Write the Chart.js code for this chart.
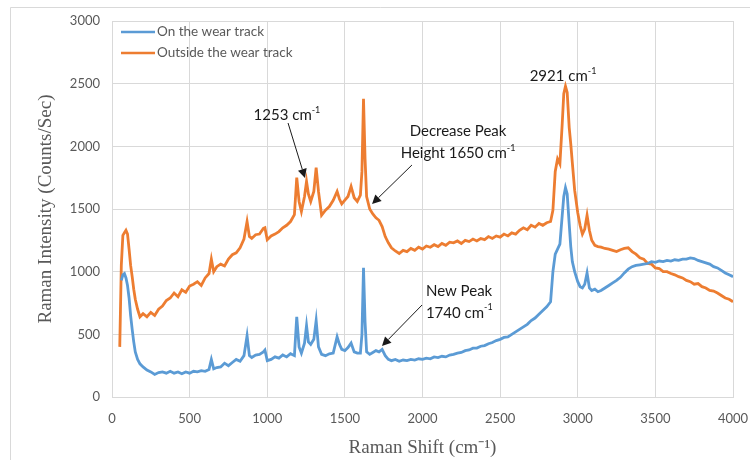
<!DOCTYPE html>
<html>
<head>
<meta charset="utf-8">
<script src="https://cdn.jsdelivr.net/npm/chart.js@4.4.1/dist/chart.umd.min.js"></script>
<style>
  html, body { margin: 0; padding: 0; background: #fff; }
  #wrap { width: 750px; height: 460px; }
</style>
</head>
<body>
<div id="wrap"><canvas id="ramanChart" width="750" height="460"></canvas></div>
<script>
// Raman shift (cm-1), shared by both spectra
const shifts = [
  50, 60, 70, 80, 90, 100, 110, 120, 130, 140,
  150, 165, 180, 200, 225, 250, 275, 300, 325, 350,
  375, 400, 425, 450, 475, 500, 525, 550, 575, 600,
  625, 640, 655, 675, 700, 725, 750, 775, 800, 825,
  850, 870, 885, 900, 925, 950, 975, 985, 1000, 1025,
  1050, 1075, 1100, 1125, 1150, 1175, 1190, 1205, 1220, 1240,
  1253, 1265, 1280, 1300, 1315, 1330, 1350, 1375, 1400, 1425,
  1450, 1465, 1480, 1500, 1520, 1540, 1560, 1580, 1600, 1610,
  1620, 1630, 1640, 1660, 1680, 1700, 1720, 1740, 1760, 1780,
  1800, 1825, 1850, 1875, 1900, 1925, 1950, 1975, 2000, 2025,
  2050, 2075, 2100, 2125, 2150, 2175, 2200, 2225, 2250, 2275,
  2300, 2325, 2350, 2375, 2400, 2425, 2450, 2475, 2500, 2525,
  2550, 2575, 2600, 2625, 2650, 2675, 2700, 2725, 2750, 2775,
  2800, 2825, 2840, 2855, 2870, 2885, 2900, 2910, 2921, 2932,
  2945, 2955, 2965, 2980, 3000, 3015, 3030, 3045, 3060, 3075,
  3090, 3110, 3130, 3150, 3175, 3200, 3225, 3250, 3275, 3300,
  3325, 3350, 3375, 3400, 3425, 3450, 3475, 3500, 3525, 3550,
  3575, 3600, 3625, 3650, 3675, 3700, 3725, 3750, 3775, 3800,
  3825, 3850, 3875, 3900, 3925, 3950, 3975, 4000
];

// On the wear track (Counts/Sec)
const onTrack = [
  null, 930, 975, 985, 950, 890, 790, 650, 540, 440,
  360, 300, 265, 240, 215, 200, 180, 195, 200, 190,
  205, 190, 200, 185, 200, 190, 205, 200, 210, 205,
  220, 300, 225, 235, 240, 270, 250, 275, 300, 285,
  330, 490, 330, 315, 335, 340, 360, 375, 290, 300,
  320, 310, 335, 320, 345, 330, 640, 400, 350, 430,
  570, 440, 420, 460, 610, 400, 340, 330, 345, 350,
  480, 420, 380, 370, 395, 430, 360, 350, 350, 500,
  1030, 600, 360, 340, 355, 370, 360, 380, 330, 300,
  290, 300, 285, 295, 290, 300, 295, 305, 300, 310,
  305, 320, 315, 325, 320, 335, 340, 350, 355, 370,
  375, 390, 390, 405, 410, 425, 435, 450, 460, 475,
  480, 500, 520, 540, 560, 580, 610, 630, 660, 690,
  720, 760, 1000, 1140, 1180, 1220, 1450, 1600, 1670, 1620,
  1380, 1200, 1080, 1000, 920, 880, 870, 900, 990, 870,
  850, 860, 840, 850, 870, 890, 910, 930, 955, 990,
  1020, 1040, 1050, 1055, 1060, 1065, 1080, 1075, 1085, 1080,
  1090, 1085, 1095, 1090, 1100, 1100, 1110, 1105, 1090, 1080,
  1070, 1060, 1040, 1030, 1010, 990, 975, 960
];

// Outside the wear track (Counts/Sec)
const outsideTrack = [
  400, 1050, 1290, 1310, 1330, 1300, 1180, 1050, 960, 860,
  780, 700, 640, 665, 640, 675, 650, 700, 725, 770,
  790, 830, 800, 855, 835, 885, 900, 920, 890, 950,
  985, 1100, 1000, 1040, 1060, 1045, 1100, 1135, 1150, 1190,
  1260, 1400, 1280, 1265, 1295, 1300, 1345, 1350, 1255, 1285,
  1300, 1320, 1350, 1370, 1400, 1455, 1750, 1560, 1480, 1600,
  1720, 1620, 1560, 1640, 1830, 1640, 1450, 1490, 1520, 1570,
  1640, 1580, 1540, 1570, 1600, 1680, 1590, 1560, 1610, 1800,
  2380, 1900, 1600, 1500, 1460, 1430, 1410, 1360, 1280, 1230,
  1190, 1165, 1145, 1170, 1160, 1185, 1170, 1195, 1180, 1205,
  1195, 1215, 1200, 1225, 1210, 1235, 1230, 1245, 1225, 1250,
  1240, 1260, 1245, 1265, 1255, 1280, 1265, 1285, 1275, 1300,
  1285, 1310, 1300, 1330, 1350, 1335, 1370, 1355, 1385, 1370,
  1390, 1400, 1490, 1800, 1900, 1860, 2180, 2420, 2480, 2430,
  2150, 2020, 1870, 1650, 1470, 1370, 1300, 1340, 1450, 1330,
  1250, 1210, 1200, 1195, 1185, 1180, 1170, 1160, 1175, 1185,
  1190, 1160, 1140, 1110, 1100, 1065, 1060, 1030, 1025, 1000,
  1000, 985, 975, 960, 950, 930, 920, 900, 905, 880,
  870, 850, 845, 830, 810, 790, 780, 760
];

const seriesNames = ['On the wear track', 'Outside the wear track'];
const seriesColors = ['#5B9BD5', '#ED7D31'];

const xTicks = [0, 500, 1000, 1500, 2000, 2500, 3000, 3500, 4000];
const yTicks = [0, 500, 1000, 1500, 2000, 2500, 3000];

// Notes written on the plot, anchored in data units; "^" starts a superscript
const notes = [
  { lines: ['1253 cm^-1'], at: [1127, 2250], align: 'center', from: [1134, 2186], to: [1243, 1747] },
  { lines: ['Decrease Peak', 'Height 1650 cm^-1'], at: [2229, 2122], align: 'center', from: [1932, 1851], to: [1675, 1540] },
  { lines: ['2921 cm^-1'], at: [2905, 2561], align: 'center' },
  { lines: ['New Peak', '1740 cm^-1'], at: [2022, 846], align: 'left', from: [1997, 734], to: [1739, 407] }
];

const tickFont = { family: 'Lato', size: 13 };
const textGrey = '#595959';
const gridGrey = '#d9d9d9';

function toPoints(values) {
  return shifts.map((s, i) => ({ x: s, y: values[i] }));
}

// Writes text with an optional raised part after "^"
function drawSupText(ctx, text, x, y, align, size, family) {
  const parts = text.split('^');
  ctx.font = size + 'px ' + family;
  const w1 = ctx.measureText(parts[0]).width;
  const supSize = Math.round(size * 0.62);
  ctx.font = supSize + 'px ' + family;
  const w2 = parts[1] ? ctx.measureText(parts[1]).width : 0;
  let left = align === 'center' ? x - (w1 + w2) / 2 : x;
  ctx.textAlign = 'left';
  ctx.textBaseline = 'middle';
  ctx.font = size + 'px ' + family;
  ctx.fillText(parts[0], left, y);
  if (parts[1]) {
    ctx.font = supSize + 'px ' + family;
    ctx.fillText(parts[1], left + w1, y - size * 0.36);
  }
}

function drawArrow(ctx, x1, y1, x2, y2) {
  const ang = Math.atan2(y2 - y1, x2 - x1);
  const len = 9, half = 4.5;
  const bx = x2 - Math.cos(ang) * len;
  const by = y2 - Math.sin(ang) * len;
  ctx.beginPath();
  ctx.moveTo(x1, y1);
  ctx.lineTo(bx, by);
  ctx.stroke();
  ctx.beginPath();
  ctx.moveTo(x2, y2);
  ctx.lineTo(bx + Math.sin(ang) * half, by - Math.cos(ang) * half);
  ctx.lineTo(bx - Math.sin(ang) * half, by + Math.cos(ang) * half);
  ctx.closePath();
  ctx.fill();
}

const framePlugin = {
  id: 'frame',
  beforeDraw(chart) {
    const ctx = chart.ctx;
    ctx.save();
    ctx.fillStyle = '#fff';
    ctx.fillRect(0, 0, chart.width, chart.height);
    ctx.strokeStyle = gridGrey;
    ctx.lineWidth = 1;
    ctx.beginPath();
    ctx.moveTo(10.5, chart.height);
    ctx.lineTo(10.5, 7.5);
    ctx.lineTo(chart.width, 7.5);
    ctx.stroke();
    ctx.restore();
  }
};

const notesPlugin = {
  id: 'notes',
  afterDatasetsDraw(chart) {
    const ctx = chart.ctx;
    const xs = chart.scales.x, ys = chart.scales.y;
    ctx.save();

    // legend inside the plot, top left
    seriesNames.forEach((name, i) => {
      const y = 32 + i * 21;
      ctx.strokeStyle = seriesColors[i];
      ctx.lineWidth = 2.5;
      ctx.beginPath();
      ctx.moveTo(121, y);
      ctx.lineTo(155, y);
      ctx.stroke();
      ctx.fillStyle = textGrey;
      drawSupText(ctx, name, 157, y, 'left', 13.5, 'Lato');
    });

    ctx.fillStyle = '#1a1a1a';
    ctx.strokeStyle = '#1a1a1a';
    ctx.lineWidth = 1;
    notes.forEach(n => {
      const x = xs.getPixelForValue(n.at[0]);
      const y = ys.getPixelForValue(n.at[1]);
      n.lines.forEach((line, k) => {
        drawSupText(ctx, line, x, y + k * 22, n.align, 15, 'Lato');
      });
      if (n.from) {
        drawArrow(ctx,
          xs.getPixelForValue(n.from[0]), ys.getPixelForValue(n.from[1]),
          xs.getPixelForValue(n.to[0]), ys.getPixelForValue(n.to[1]));
      }
    });
    ctx.restore();
  }
};

const ctx = document.getElementById('ramanChart').getContext('2d');
new Chart(ctx, {
  type: 'line',
  data: {
    datasets: [
      {
        label: seriesNames[1],
        data: toPoints(outsideTrack),
        borderColor: seriesColors[1],
        borderWidth: 2.8,
        pointRadius: 0,
        tension: 0,
        order: 2
      },
      {
        label: seriesNames[0],
        data: toPoints(onTrack),
        borderColor: seriesColors[0],
        borderWidth: 2.8,
        pointRadius: 0,
        tension: 0,
        spanGaps: true,
        order: 1
      }
    ]
  },
  options: {
    responsive: false,
    animation: false,
    devicePixelRatio: 1,
    layout: { padding: { top: 21, right: 17, left: 0, bottom: 0 } },
    plugins: {
      legend: { display: false },
      tooltip: { enabled: false }
    },
    scales: {
      x: {
        type: 'linear',
        min: 0,
        max: 4000,
        afterBuildTicks: s => { s.ticks = xTicks.map(v => ({ value: v })); },
        afterFit: s => { s.height = 63; s.paddingLeft = 0; s.paddingRight = 0; },
        ticks: { font: tickFont, color: textGrey, padding: 14, maxRotation: 0, callback: v => String(v) },
        grid: { color: gridGrey, drawTicks: false },
        border: { color: gridGrey },
        title: {
          display: true,
          text: 'Raman Shift (cm⁻¹)',
          font: { family: 'Liberation Serif', size: 19 },
          color: textGrey,
          padding: { top: 0, bottom: 1 }
        }
      },
      y: {
        min: 0,
        max: 3000,
        afterBuildTicks: s => { s.ticks = yTicks.map(v => ({ value: v })); },
        afterFit: s => { s.width = 112; },
        ticks: { font: tickFont, color: textGrey, padding: 12, callback: v => String(v) },
        grid: { color: gridGrey, drawTicks: false },
        border: { color: gridGrey },
        title: {
          display: true,
          text: 'Raman Intensity (Counts/Sec)',
          font: { family: 'Liberation Serif', size: 19 },
          color: textGrey,
          padding: { top: 35, bottom: 0 }
        }
      }
    }
  },
  plugins: [framePlugin, notesPlugin]
});
</script>
</body>
</html>
